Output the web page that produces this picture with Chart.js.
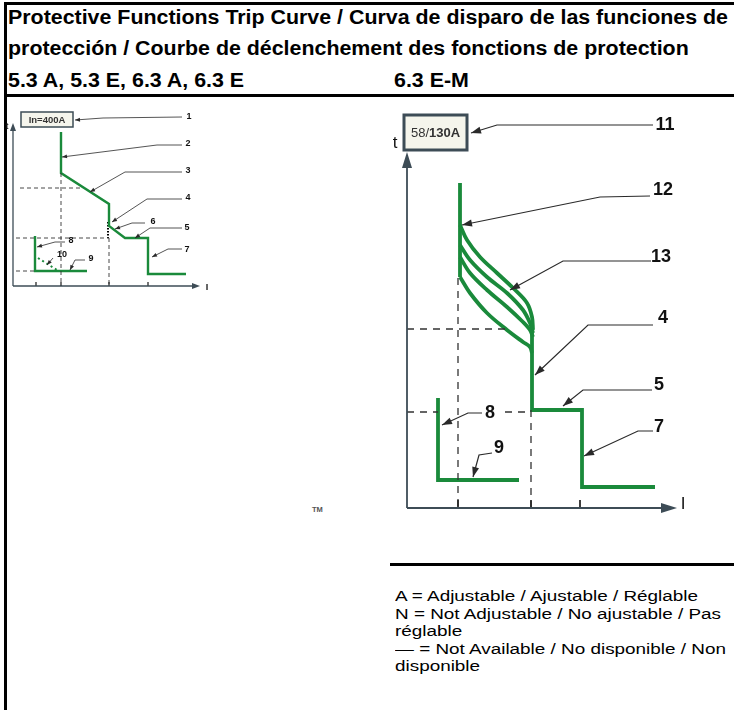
<!DOCTYPE html>
<html>
<head>
<meta charset="utf-8">
<script src="https://cdn.jsdelivr.net/npm/chart.js@4.4.1/dist/chart.umd.min.js"></script>
<style>
  body { margin: 0; background: #fff; width: 734px; height: 710px; position: relative; overflow: hidden;
         font-family: "Liberation Sans", Arial, sans-serif; }
  .rule { position: absolute; background: #000; }
  .hd { position: absolute; left: 8px; font-weight: bold; font-size: 19.5px; line-height: 1; white-space: nowrap; transform-origin: 0 0; }
  .lg { position: absolute; left: 395px; font-size: 15.5px; line-height: 1; white-space: nowrap; transform-origin: 0 0; }
  canvas { position: absolute; }
</style>
</head>
<body>
<div class="rule" style="left:4px;top:2px;width:2.5px;height:708px"></div>
<div class="rule" style="left:4px;top:2px;width:730px;height:2.5px"></div>
<div class="rule" style="left:4px;top:94px;width:730px;height:3px"></div>
<div class="rule" style="left:390px;top:563px;width:344px;height:3px"></div>

<div class="hd" id="h1" style="top:7.5px">Protective Functions Trip Curve / Curva de disparo de las funciones de</div>
<div class="hd" id="h2" style="top:39px">protección / Courbe de déclenchement des fonctions de protection</div>
<div class="hd" id="h3" style="top:70.5px">5.3 A, 5.3 E, 6.3 A, 6.3 E</div>
<div class="hd" id="h4" style="top:70.5px;left:394px">6.3 E-M</div>

<div style="position:absolute;left:312px;top:505px;font-size:7.5px;font-weight:bold;color:#555">TM</div>

<div class="lg" style="top:588px">A = Adjustable / Ajustable / Réglable</div>
<div class="lg" id="lg2" style="top:605.5px">N = Not Adjustable / No ajustable / Pas</div>
<div class="lg" style="top:623px">réglable</div>
<div class="lg" style="top:640.5px">— = Not Available / No disponible / Non</div>
<div class="lg" style="top:658px">disponible</div>

<canvas id="leftCurve" width="215" height="195" style="left:5px;top:100px;width:215px;height:195px"></canvas>
<canvas id="rightCurve" width="310" height="420" style="left:385px;top:105px;width:310px;height:420px"></canvas>

<script>
  const GREEN = "#1a8a3b";
  const AXIS = "#3d4c56";
  const INK = "#2a2a2a";

  // ---- 5.3 A / 5.3 E / 6.3 A / 6.3 E  (I, t in arbitrary units from the origin) ----
  const leftAxisEnd = [187, 163];
  const leftTicks = [23, 48, 96, 135];
  const leftDashed = [
    [[7, 98], [70, 98]],
    [[48, 113], [48, 0]],
    [[3, 48], [96, 48]],
    [[96, 48], [96, 0]],
    [[3, 15], [22, 15]],
  ];
  const leftDotted = [[95, 64], [95, 48]];
  const leftTrip = [[48, 154], [48, 113], [96, 82], [96, 60], [112, 48], [135, 48], [135, 12], [173, 12]];
  const leftGround = [[22, 50], [22, 15], [74, 15]];
  const leftGroundI2t = [[25, 28], [44, 16]];
  const leftCallouts = [
    { label: "1", at: [176, 169], path: [[169, 169], [90, 168], [62, 166]] },
    { label: "2", at: [175, 142], path: [[169, 141], [144, 141], [49, 129]] },
    { label: "3", at: [175, 115], path: [[169, 114], [112, 114], [77, 94]] },
    { label: "4", at: [175, 88], path: [[169, 87], [134, 87], [99, 64]] },
    { label: "6", at: [140, 64], path: [[132, 63], [119, 63], [102, 57]] },
    { label: "5", at: [174, 58], path: [[169, 58], [137, 58], [122, 48]] },
    { label: "7", at: [174, 36], path: [[169, 37], [155, 37], [139, 29]] },
    { label: "8", at: [58, 45], path: [[52, 44], [42, 44], [24, 39]] },
    { label: "10", at: [49, 31], path: [[40, 28], [34, 21]] },
    { label: "9", at: [78, 27], path: [[72, 26], [62, 26], [57, 16]] },
  ];

  // ---- 6.3 E-M ----
  const rightAxisEnd = [270, 356];
  const rightTicks = [51, 124, 173];
  const rightDashed = [
    [[51, 230], [51, 0]],
    [[0, 179], [103, 179]],
    [[124, 98], [124, 0]],
    [[0, 96], [31, 96]],
    [[98, 96], [124, 96]],
  ];
  const rightLongTime = [[53, 325], [53, 231]];
  const rightCurveA = [[53, 283], [60, 268], [73, 251], [90, 235], [106, 220], [120, 205], [125, 191], [126, 178]];
  const rightCurveB = [[53, 263], [63, 248], [80, 231], [100, 215], [116, 198], [123, 185], [126, 175]];
  const rightCurveC = [[53, 251], [63, 235], [80, 218], [100, 201], [116, 186], [123, 178], [126, 171]];
  const rightCurveD = [[53, 231], [63, 215], [80, 195], [100, 178], [116, 166], [123, 161], [125, 155]];
  const rightInst = [[125, 180], [125, 98], [175, 98], [175, 21], [248, 21]];
  const rightGround = [[31, 110], [31, 28], [112, 28]];
  const rightCallouts = [
    { label: "11", at: [258, 383], path: [[246, 383], [90, 383], [64, 375]] },
    { label: "12", at: [256, 318], path: [[243, 312], [193, 311], [55, 283]] },
    { label: "13", at: [254, 251], path: [[244, 247], [156, 247], [103, 218]] },
    { label: "4", at: [256, 190], path: [[246, 183], [181, 183], [128, 133]] },
    { label: "5", at: [252, 123], path: [[245, 118], [176, 118], [156, 102]] },
    { label: "7", at: [252, 81], path: [[246, 77], [231, 77], [177, 52]] },
    { label: "8", at: [83, 95], path: [[75, 95], [61, 95], [35, 83]] },
    { label: "9", at: [92, 60], path: [[85, 55], [72, 53], [66, 31]] },
  ];

  const toPts = (arr) => arr.map(([x, y]) => ({ x, y }));

  function line(points, color, width, extra) {
    return Object.assign({
      data: toPts(points),
      showLine: true,
      borderColor: color,
      borderWidth: width,
      pointRadius: 0,
      fill: false,
      tension: 0,
      borderJoinStyle: "miter",
      borderCapStyle: "butt",
      clip: false,
    }, extra || {});
  }

  function arrowHead(ctx, fx, fy, tx, ty, len, hw) {
    const a = Math.atan2(ty - fy, tx - fx);
    const c = Math.cos(a), s = Math.sin(a);
    ctx.beginPath();
    ctx.moveTo(tx, ty);
    ctx.lineTo(tx - len * c - hw * s, ty - len * s + hw * c);
    ctx.lineTo(tx - len * c + hw * s, ty - len * s - hw * c);
    ctx.closePath();
    ctx.fill();
  }

  function decor(d) {
    return {
      id: "decor",
      afterDatasetsDraw(chart) {
        const ctx = chart.ctx;
        const px = (v) => chart.scales.x.getPixelForValue(v);
        const py = (v) => chart.scales.y.getPixelForValue(v);
        ctx.save();

        // axis arrows
        ctx.fillStyle = AXIS;
        arrowHead(ctx, px(0), py(0), px(d.axisEnd[0]), py(0), d.axLen, d.axHw);
        arrowHead(ctx, px(0), py(0), px(0), py(d.axisEnd[1]), d.axLen, d.axHw);

        ctx.fillStyle = "#111";
        ctx.textAlign = "center";
        ctx.textBaseline = "middle";
        ctx.font = d.axisFont;
        ctx.fillText("t", px(d.tLabel[0]), py(d.tLabel[1]));
        ctx.fillText("I", px(d.iLabel[0]), py(d.iLabel[1]));

        // rating box
        const bx = px(d.box[0]), by = py(d.box[3]);
        const bw = px(d.box[2]) - bx, bh = py(d.box[1]) - by;
        ctx.fillStyle = "#f5f5ec";
        ctx.fillRect(bx, by, bw, bh);
        ctx.strokeStyle = AXIS;
        ctx.lineWidth = d.boxLine;
        ctx.strokeRect(bx, by, bw, bh);
        ctx.fillStyle = "#333";
        ctx.textAlign = "left";
        let total = 0;
        d.boxText.forEach((p) => { ctx.font = p.font; total += ctx.measureText(p.t).width; });
        let cx = bx + bw / 2 - total / 2;
        d.boxText.forEach((p) => {
          ctx.font = p.font;
          ctx.fillText(p.t, cx, by + bh / 2 + 0.5);
          cx += ctx.measureText(p.t).width;
        });

        // callouts
        ctx.strokeStyle = INK;
        ctx.fillStyle = INK;
        ctx.lineWidth = d.leaderWidth;
        d.callouts.forEach((c) => {
          const pts = c.path.map(([x, y]) => [px(x), py(y)]);
          ctx.beginPath();
          pts.forEach(([x, y], i) => (i ? ctx.lineTo(x, y) : ctx.moveTo(x, y)));
          ctx.stroke();
          const n = pts.length;
          arrowHead(ctx, pts[n - 2][0], pts[n - 2][1], pts[n - 1][0], pts[n - 1][1], d.arLen, d.arHw);
        });
        ctx.fillStyle = "#111";
        ctx.textAlign = "center";
        ctx.font = d.labelFont;
        d.callouts.forEach((c) => ctx.fillText(c.label, px(c.at[0]), py(c.at[1])));

        ctx.restore();
      },
    };
  }

  function tickSegments(ticks, h) {
    return ticks.map((x) => [[x, 0], [x, h]]);
  }

  function buildChart(id, cfg) {
    const datasets = [];
    datasets.push(line([[0, 0], [cfg.axisEnd[0] - cfg.axLen, 0]], AXIS, cfg.axisWidth));
    datasets.push(line([[0, 0], [0, cfg.axisEnd[1] - cfg.axLen]], AXIS, cfg.axisWidth));
    tickSegments(cfg.ticks, cfg.tickH).forEach((s) => datasets.push(line(s, INK, cfg.axisWidth)));
    cfg.dashed.forEach((s) => datasets.push(line(s, "#333", cfg.dashWidth, { borderDash: cfg.dash })));
    cfg.green.forEach((g) => datasets.push(line(g.pts, GREEN, cfg.greenWidth, g.extra)));
    cfg.extra.forEach((e) => datasets.push(e));

    return new Chart(document.getElementById(id), {
      type: "scatter",
      data: { datasets },
      options: {
        responsive: false,
        animation: false,
        events: [],
        layout: { padding: 0 },
        plugins: { legend: { display: false }, tooltip: { enabled: false } },
        scales: {
          x: { type: "linear", display: false, min: cfg.xr[0], max: cfg.xr[1] },
          y: { type: "linear", display: false, min: cfg.yr[0], max: cfg.yr[1] },
        },
      },
      plugins: [decor(cfg)],
    });
  }

  buildChart("leftCurve", {
    xr: [-8, 207], yr: [-9, 186],
    axisEnd: leftAxisEnd, axisWidth: 1.3, axLen: 8, axHw: 3,
    ticks: leftTicks, tickH: 4,
    dashed: leftDashed, dash: [4, 3], dashWidth: 0.9,
    greenWidth: 2.4,
    green: [
      { pts: leftTrip },
      { pts: leftGround },
      { pts: leftGroundI2t, extra: { borderDash: [2, 3], borderWidth: 2 } },
    ],
    extra: [line(leftDotted, "#000", 2, { borderDash: [1.5, 1.5] })],
    tLabel: [-6, 159], iLabel: [194, -2], axisFont: "bold 9px 'Liberation Sans', Arial",
    box: [8, 159, 60, 174], boxLine: 1.5,
    boxText: [{ t: "In=400A", font: "bold 9.5px 'Liberation Sans', Arial" }],
    callouts: leftCallouts, leaderWidth: 0.8, arLen: 5, arHw: 2,
    labelFont: "bold 9px 'Liberation Sans', Arial",
  });

  buildChart("rightCurve", {
    xr: [-22, 288], yr: [-17, 403],
    axisEnd: rightAxisEnd, axisWidth: 1.8, axLen: 16, axHw: 5,
    ticks: rightTicks, tickH: 8,
    dashed: rightDashed, dash: [7, 6], dashWidth: 1.3,
    greenWidth: 3.8,
    green: [
      { pts: rightLongTime },
      { pts: rightCurveA, extra: { tension: 0.35 } },
      { pts: rightCurveB, extra: { tension: 0.35 } },
      { pts: rightCurveC, extra: { tension: 0.35 } },
      { pts: rightCurveD, extra: { tension: 0.35 } },
      { pts: rightInst },
      { pts: rightGround },
    ],
    extra: [],
    tLabel: [-12, 365], iLabel: [276, 4], axisFont: "17px 'Liberation Sans', Arial",
    box: [-3, 358, 60, 393], boxLine: 3,
    boxText: [
      { t: "58/", font: "13px 'Liberation Sans', Arial" },
      { t: "130A", font: "bold 13px 'Liberation Sans', Arial" },
    ],
    callouts: rightCallouts, leaderWidth: 1.2, arLen: 10, arHw: 3.5,
    labelFont: "bold 18px 'Liberation Sans', Arial",
  });

  // fit the header and legend text blocks to the widths in the reference
  function fit(refId, target, cls) {
    const ref = document.getElementById(refId);
    const k = target / ref.getBoundingClientRect().width;
    document.querySelectorAll(cls).forEach((el) => (el.style.transform = "scaleX(" + k + ")"));
  }
  fit("h1", 720, ".hd");
  fit("lg2", 326, ".lg");
</script>
</body>
</html>
